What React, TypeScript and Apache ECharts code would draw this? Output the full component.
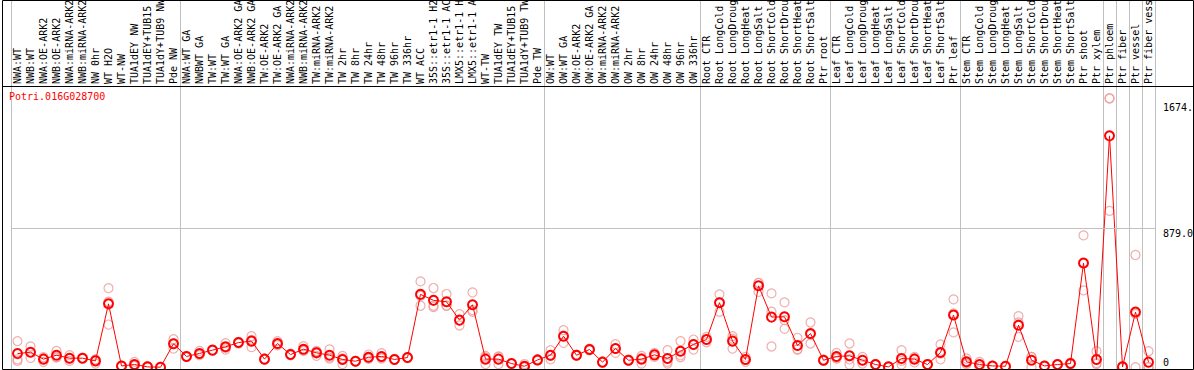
import React, { useEffect, useRef } from "react";
import * as echarts from "echarts";

const geneTitle = "Potri.016G028700";

const categories = [
  "NWA:WT", "NWB:WT", "NWA:OE-ARK2", "NWB:OE-ARK2", "NWA:miRNA-ARK2", "NWB:miRNA-ARK2", "NW 0hr", "WT H2O", "WT-NW", "TUA1dEY NW", "TUA1dEY+TUB15 NW", "TUA1dY+TUB9 NW", "Pde NW",
  "NWA:WT GA", "NWBWT GA", "TW:WT", "TW:WT GA", "NWA:OE-ARK2 GA", "NWB:OE-ARK2 GA", "TW:OE-ARK2", "TW:OE-ARK2 GA", "NWA:miRNA-ARK2", "NWB:miRNA-ARK2", "TW:miRNA-ARK2", "TW:miRNA-ARK2",
  "TW 2hr", "TW 8hr", "TW 24hr", "TW 48hr", "TW 96hr", "TW 336hr", "WT ACC", "35S::etr1-1 H2O", "35S::etr1-1 ACC", "LMX5::etr1-1 H2O", "LMX5::etr1-1 ACC", "WT-TW", "TUA1dEY TW", "TUA1dEY+TUB15 TW", "TUA1dY+TUB9 TW", "Pde TW",
  "OW:WT", "OW:WT GA", "OW:OE-ARK2", "OW:OE-ARK2 GA", "OW:miRNA-ARK2", "OW:miRNA-ARK2", "OW 2hr", "OW 8hr", "OW 24hr", "OW 48hr", "OW 96hr", "OW 336hr",
  "Root CTR", "Root LongCold", "Root LongDrought", "Root LongHeat", "Root LongSalt", "Root ShortCold", "Root ShortDrought", "Root ShortHeat", "Root ShortSalt", "Ptr root",
  "Leaf CTR", "Leaf LongCold", "Leaf LongDrought", "Leaf LongHeat", "Leaf LongSalt", "Leaf ShortCold", "Leaf ShortDrought", "Leaf ShortHeat", "Leaf ShortSalt", "Ptr leaf",
  "Stem CTR", "Stem LongCold", "Stem LongDrought", "Stem LongHeat", "Stem LongSalt", "Stem ShortCold", "Stem ShortDrought", "Stem ShortHeat", "Stem ShortSalt", "Ptr shoot", "Ptr xylem",
  "Ptr phloem", "Ptr fiber", "Ptr vessel", "Ptr fiber vessel",
];

// index of the first category of each group (separator lines)
const groupStartIdx = [0, 13, 41, 53, 63, 73, 84, 85, 86, 87];

const meanExpr = [
  86, 95, 51, 76, 57, 57, 40, 401, 8, 17, 2, 0, 148,
  68, 87, 108, 129, 156, 165, 51, 150, 80, 114, 91, 76, 49, 38, 63, 68, 49, 61, 461, 423, 414, 298, 395, 51, 51, 23, 6, 46,
  76, 196, 76, 112, 32, 118, 44, 51, 78, 55, 101, 144,
  175, 408, 165, 49, 515, 317, 319, 137, 213, 44,
  68, 72, 44, 17, 2, 55, 51, 17, 93, 330,
  34, 17, 8, 6, 266, 44, 8, 17, 23, 659, 49,
  1464, 2, 349, 32,
];

const rep1 = [
  165, 131, 55, 103, 76, 60, 49, 500, 10, 34, 6, 3, 177,
  72, 103, 110, 152, 160, 196, 55, 165, 85, 133, 103, 112, 72, 40, 80, 89, 52, 64, 543, 501, 463, 336, 473, 72, 65, 25, 20, 50,
  108, 234, 80, 118, 36, 146, 48, 72, 91, 108, 165, 175,
  192, 461, 196, 65, 534, 467, 410, 186, 283, 48,
  91, 150, 65, 20, 4, 108, 65, 20, 144, 429,
  55, 34, 10, 8, 323, 65, 10, 20, 28, 834, 101,
  1703, 6, 710, 101,
];

const rep2 = [
  50, 59, 34, 62, 40, 55, 23, 414, 6, 8, 0, 0, 118,
  64, 76, 105, 112, 150, 127, 48, 139, 75, 103, 72, 55, 19, 36, 55, 55, 46, 58, 389, 389, 389, 264, 351, 19, 19, 21, 0, 42,
  49, 154, 72, 106, 28, 91, 40, 23, 65, 23, 63, 112,
  158, 351, 118, 34, 477, 351, 298, 112, 150, 40,
  55, 17, 23, 14, 0, 17, 30, 14, 49, 220,
  19, 2, 6, 4, 192, 2, 6, 14, 18, 486, 20,
  989, 0, 0, 0,
];

const rep3 = [
  40, 95, 64, 63, 55, 57, 47, 270, 8, 9, 0, 0, 150,
  68, 82, 108, 123, 158, 172, 50, 145, 80, 106, 98, 62, 56, 38, 54, 60, 49, 61, 451, 380, 390, 294, 361, 62, 69, 23, 0, 46,
  72, 200, 76, 112, 32, 117, 44, 58, 78, 34, 75, 145,
  175, 412, 181, 48, 534, 131, 243, 113, 206, 44,
  58, 49, 44, 17, 2, 40, 58, 17, 86, 341,
  28, 15, 8, 6, 283, 65, 8, 17, 23, 657, 26,
  1700, 0, 337, 0,
];

const yUpperTicks = [879, 1674];
const yUpperTickLabels = ["879.0", "1674."];
const yZeroTicks = [0];
const gridLineValue = 879;

const MONO = "'DejaVu Sans Mono', 'Liberation Mono', monospace";
const Y_MIN = -11.4;
const Y_MAX = 2323.7;

export default function App() {
  const ref = useRef<HTMLDivElement>(null);

  useEffect(() => {
    if (!ref.current) return;
    const chart = echarts.init(ref.current, null, { renderer: "svg" });

    const repStyle = {
      color: "rgba(0,0,0,0)",
      borderColor: "#ec9a9a",
      borderWidth: 1.2,
    };
    const repSeries = [rep1, rep2, rep3].map((arr, k) => ({
      name: "rep" + (k + 1),
      type: "scatter",
      data: arr.map((v, i) => [i, v]),
      symbol: "circle",
      symbolSize: 9,
      itemStyle: repStyle,
      z: 2,
      silent: true,
    }));

    const yAxisBase = {
      type: "value",
      min: Y_MIN,
      max: Y_MAX,
      position: "right",
      axisLine: { show: false },
      axisTick: { show: false },
      splitLine: { show: false },
    };

    chart.setOption({
      animation: false,
      backgroundColor: "#ffffff",
      grid: {
        left: 11,
        right: 39,
        top: 0,
        bottom: 1,
        containLabel: false,
        outerBoundsMode: "none",
      },
      xAxis: {
        type: "category",
        data: categories,
        position: "top",
        offset: -86,
        boundaryGap: true,
        axisLine: { show: false },
        axisTick: { show: false },
        axisLabel: {
          interval: 0,
          rotate: 90,
          margin: 2,
          align: "left",
          verticalAlign: "middle",
          fontSize: 10,
          fontFamily: MONO,
          color: "#000",
        },
        splitLine: {
          show: true,
          interval: (idx: number) => groupStartIdx.indexOf(idx) >= 0,
          lineStyle: { color: "#c0c0c0", width: 1 },
        },
      },
      yAxis: [
        {
          ...yAxisBase,
          axisLabel: {
            customValues: yUpperTicks,
            formatter: (v: number) => {
              const k = yUpperTicks.indexOf(v);
              return k >= 0 ? yUpperTickLabels[k] : "";
            },
            verticalAlign: "top",
            margin: 8,
            fontSize: 10,
            fontFamily: MONO,
            color: "#000",
          },
        },
        {
          ...yAxisBase,
          axisLabel: {
            customValues: yZeroTicks,
            formatter: (v: number) => String(v),
            verticalAlign: "bottom",
            margin: 8,
            fontSize: 10,
            fontFamily: MONO,
            color: "#000",
          },
        },
      ],
      series: [
        ...repSeries,
        {
          name: "mean",
          type: "line",
          data: meanExpr,
          symbol: "circle",
          symbolSize: 9,
          showAllSymbol: true,
          itemStyle: { color: "rgba(0,0,0,0)", borderColor: "#ff0000", borderWidth: 2 },
          lineStyle: { color: "#ff0000", width: 1 },
          z: 3,
          silent: true,
          markLine: {
            silent: true,
            symbol: "none",
            label: { show: false },
            lineStyle: { color: "#c0c0c0", type: "solid", width: 1 },
            data: [{ yAxis: gridLineValue }],
          },
        },
      ],
      graphic: [
        {
          type: "rect",
          shape: { x: 2.5, y: 0.5, width: 1191, height: 369 },
          style: { fill: "none", stroke: "#000", lineWidth: 1 },
          z: 100,
          silent: true,
        },
        {
          type: "line",
          shape: { x1: 2, y1: 86.5, x2: 1194, y2: 86.5 },
          style: { stroke: "#000", lineWidth: 1 },
          z: 100,
          silent: true,
        },
        {
          type: "text",
          x: 9,
          y: 91,
          style: { text: geneTitle, fill: "#ff0000", font: "10px 'DejaVu Sans Mono', monospace" },
          z: 100,
          silent: true,
        },
      ],
    });

    return () => chart.dispose();
  }, []);

  return (
    <div
      ref={ref}
      style={{ position: "fixed", left: 0, top: 0, width: 1194, height: 370 }}
    />
  );
}
